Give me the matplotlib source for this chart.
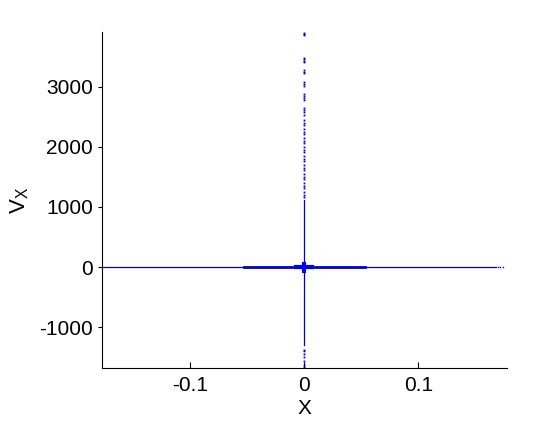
import matplotlib
matplotlib.use("Agg")
import matplotlib.pyplot as plt

plt.rcParams['font.family'] = ['Liberation Sans', 'DejaVu Sans']
plt.rcParams['mathtext.fontset'] = 'custom'
plt.rcParams['mathtext.rm'] = 'Liberation Sans'
plt.rcParams['mathtext.it'] = 'Liberation Sans'
plt.rcParams['axes.unicode_minus'] = False

# horizontal branch (V_X = 0)
x_thin = [-0.177, 0.168]
v_thin = [0, 0]
x_thick = [-0.053, 0.053]
v_thick = [0, 0]
x_end_dots = [0.170, 0.1715, 0.174]
v_end_dots = [0, 0, 0]

# vertical branch (X = 0)
v_solid = [-1300, 1120]
v_top_dots = [3890, 3870, 3850, 3480, 3460, 3430, 3410, 3280, 3250, 3230,
              3070, 3040, 3010, 2870, 2840, 2810, 2770, 2640, 2610, 2580,
              2530, 2440, 2400, 2360, 2290, 2250, 2210, 2150, 2100, 2060,
              1990, 1950, 1910, 1850, 1800, 1760, 1700, 1650, 1610, 1550,
              1500, 1460, 1400, 1350, 1310, 1250, 1200, 1160]
v_bot_dots = [-1370, -1400, -1440, -1500, -1560, -1620, -1660]

# blob at origin
x_blob = [-0.007, 0.007]
v_blob = [-60, 60]

xticks = [-0.1, 0, 0.1]
xticklabels = ['-0.1', '0', '0.1']
yticks = [-1000, 0, 1000, 2000, 3000]

fig = plt.figure(figsize=(5.6, 4.22), dpi=100)
ax = fig.add_axes([0.182, 0.128, 0.723, 0.796])

col = '#0000cc'
ax.plot(x_thin, v_thin, color=col, lw=0.9)
ax.plot(x_thick, v_thick, color=col, lw=2.0)
ax.plot(x_end_dots, v_end_dots, ls='none', marker='s', ms=1.0, mew=0, color=col)
ax.plot([0, 0], v_solid, color=col, lw=0.9)
ax.plot([0] * len(v_top_dots), v_top_dots, ls='none', marker='s', ms=1.3, mew=0, color=col)
ax.plot([0] * len(v_bot_dots), v_bot_dots, ls='none', marker='s', ms=1.3, mew=0, color=col)
ax.plot(x_blob, [0, 0], color='#0000ff', lw=3.0)
ax.plot([0, 0], v_blob, color='#0000ff', lw=3.0)

ax.set_xlim(-0.1775, 0.1775)
ax.set_ylim(-1675, 3905)
ax.set_xticks(xticks)
ax.set_xticklabels(xticklabels)
ax.set_yticks(yticks)

ax.spines['top'].set_visible(False)
ax.spines['right'].set_visible(False)
ax.tick_params(axis='x', direction='in', length=4, labelsize=15, pad=5.5)
ax.tick_params(axis='y', direction='out', length=3, labelsize=15)

ax.set_xlabel('X', fontsize=15, labelpad=3)
ax.set_ylabel(r'V$_{\mathrm{X}}$', fontsize=16, labelpad=6)

fig.savefig('out.png', dpi=100)
